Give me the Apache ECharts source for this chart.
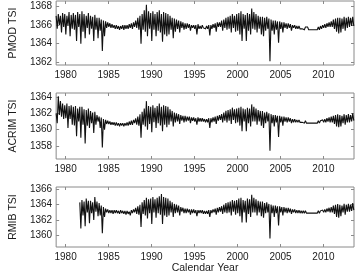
<!DOCTYPE html>
<html><head><meta charset="utf-8">
<script src="https://cdn.jsdelivr.net/npm/echarts@6/dist/echarts.min.js"></script>
<style>html,body{margin:0;padding:0;background:#fff}#c{width:357px;height:275px}</style>
</head><body><div id="c"></div>
<script>
// Time sampling: bins of 0.25 yr; each bin has an upper (hi) and lower (lo) reading of the daily-data band
const binStep = 0.25;
const pmodStart = 1978.9, acrimStart = 1978.9, rmibStart = 1981.65;
const xTicks = [1980, 1985, 1990, 1995, 2000, 2005, 2010];
const pmodTicks = [1362, 1364, 1366, 1368];
const acrimTicks = [1358, 1360, 1362, 1364];
const rmibTicks = [1360, 1362, 1364, 1366];
const panelNames = ['PMOD TSI', 'ACRIM TSI', 'RMIB TSI'];
const xTitle = 'Calendar Year';

const pmodHi = [
1367.0,1367.2,1367.0,1367.3, 1367.2,1367.0,1367.4,1367.1, 1367.3,1367.1,1367.4,1367.2, 1367.5,1367.2,1367.0,1367.3,
1367.0,1366.9,1367.1,1366.8, 1366.8,1366.6,1366.5,1366.4, 1366.3,1366.2,1366.1,1366.0, 1366.0,1365.9,1365.9,1366.0,
1366.0,1366.0,1366.1,1366.2, 1366.3,1366.5,1366.8,1367.0, 1367.2,1367.6,1368.2,1367.5, 1367.3,1367.5,1367.2,1367.4,
1367.6,1367.2,1367.4,1367.3, 1367.2,1367.0,1366.8,1366.7, 1366.6,1366.5,1366.4,1366.3, 1366.2,1366.2,1366.1,1366.0,
1366.0,1366.0,1366.1,1365.9, 1366.0,1365.9,1365.9,1366.0, 1366.0,1366.1,1366.2,1366.3, 1366.3,1366.5,1366.6,1366.8,
1366.9,1367.0,1367.2,1367.0, 1367.2,1367.3,1367.5,1367.2, 1367.1,1367.3,1367.2,1367.8, 1367.4,1367.2,1367.0,1366.9,
1366.9,1366.8,1366.9,1366.7, 1366.6,1366.5,1366.5,1366.4, 1366.4,1366.3,1366.3,1366.2, 1366.2,1366.1,1366.0,1366.0,
1365.9,1365.9,1365.8,1365.8, 1365.8,1365.8,1365.7,1365.7, 1365.7,1365.7,1365.8,1365.9, 1366.0,1366.1,1366.2,1366.3,
1366.4,1366.6,1366.7,1366.8, 1366.8,1366.7,1366.9,1366.8, 1366.9,1366.8,1366.9];
const pmodLo = [
1365.6,1366.0,1365.2,1365.8, 1365.0,1365.9,1364.8,1365.6, 1365.5,1364.3,1365.8,1364.0, 1365.3,1364.6,1365.7,1365.0,
1365.6,1364.3,1365.5,1364.6, 1365.4,1363.2,1364.8,1365.7, 1365.8,1365.7,1365.7,1365.6, 1365.6,1365.5,1365.6,1365.5,
1365.6,1365.6,1365.7,1365.6, 1365.8,1365.7,1365.5,1364.0, 1365.5,1365.3,1364.8,1365.6, 1364.3,1365.5,1364.8,1365.4,
1365.2,1364.2,1365.0,1364.8, 1365.0,1365.5,1364.6,1365.3, 1365.6,1365.2,1365.7,1365.5, 1365.6,1365.7,1365.4,1365.7,
1365.6,1365.0,1365.6,1365.6, 1365.7,1365.6,1365.6,1364.9, 1365.6,1365.7,1365.3,1365.8, 1365.8,1365.4,1365.7,1365.5,
1365.6,1365.2,1365.7,1365.3, 1365.4,1365.0,1364.3,1365.6, 1364.3,1365.4,1365.0,1365.6, 1365.5,1365.2,1365.6,1365.0,
1364.8,1365.4,1365.6,1362.1, 1365.4,1365.0,1365.5,1364.1, 1365.6,1365.2,1365.7,1365.6, 1365.7,1365.4,1365.7,1365.6,
1365.6,1365.6,1365.6,1365.5, 1365.6,1365.5,1365.5,1365.5, 1365.5,1365.5,1365.5,1365.6, 1365.7,1365.7,1365.8,1365.8,
1365.8,1365.6,1365.3,1365.1, 1365.2,1365.6,1365.4,1365.7, 1365.8,1365.9,1365.9];

const acrimHi = [
1362.0,1364.1,1363.5,1363.2, 1363.0,1363.2,1362.9,1363.0, 1362.8,1362.9,1362.6,1362.8, 1362.8,1362.5,1362.4,1362.6,
1362.3,1362.1,1362.2,1361.8, 1361.6,1361.5,1361.3,1361.2, 1361.1,1361.0,1360.9,1360.9, 1360.9,1360.8,1360.8,1360.8,
1360.8,1360.9,1361.0,1361.1, 1361.2,1361.4,1361.6,1361.9, 1362.2,1362.6,1363.5,1362.9, 1362.8,1363.0,1362.7,1362.9,
1363.2,1362.8,1363.0,1362.9, 1362.8,1362.5,1362.3,1362.1, 1362.0,1361.9,1361.8,1361.7, 1361.7,1361.6,1361.6,1361.5,
1361.5,1361.4,1361.5,1361.4, 1361.4,1361.3,1361.3,1361.4, 1361.4,1361.5,1361.6,1361.7, 1361.8,1361.9,1362.1,1362.3,
1362.4,1362.5,1362.7,1362.5, 1362.6,1362.7,1362.8,1362.6, 1362.5,1362.7,1362.6,1363.1, 1362.8,1362.6,1362.4,1362.3,
1362.3,1362.1,1362.2,1362.0, 1361.9,1361.8,1361.8,1361.7, 1361.7,1361.6,1361.6,1361.5, 1361.5,1361.4,1361.3,1361.3,
1361.2,1361.2,1361.1,1361.1, 1361.1,1361.0,1361.0,1361.0, 1361.0,1361.0,1361.1,1361.1, 1361.2,1361.3,1361.4,1361.5,
1361.6,1361.7,1361.8,1361.9, 1361.8,1361.7,1361.9,1361.8, 1361.9,1361.8,1362.0];
const acrimLo = [
1360.8,1361.8,1361.6,1361.3, 1361.4,1360.2,1361.3,1360.6, 1360.5,1359.2,1361.0,1359.0, 1360.6,1358.3,1360.5,1360.2,
1360.8,1359.6,1360.6,1361.0, 1360.2,1357.8,1360.0,1360.7, 1360.7,1360.6,1360.6,1360.5, 1360.5,1360.4,1360.5,1360.4,
1360.5,1360.5,1360.6,1360.6, 1360.8,1360.6,1360.5,1359.0, 1360.6,1360.4,1360.0,1360.7, 1359.7,1360.9,1360.2,1360.8,
1360.5,1359.8,1360.6,1360.3, 1360.6,1361.0,1360.4,1360.9, 1361.0,1360.7,1361.1,1360.9, 1361.0,1361.1,1360.8,1361.1,
1361.0,1360.6,1361.0,1361.0, 1361.0,1360.9,1360.9,1360.2, 1360.9,1361.0,1360.7,1361.1, 1361.2,1360.9,1361.1,1360.9,
1361.1,1360.7,1361.2,1360.8, 1360.9,1360.5,1359.8,1361.0, 1359.8,1360.8,1360.4,1361.0, 1361.0,1360.6,1361.0,1360.5,
1360.2,1360.8,1361.0,1357.4, 1360.8,1360.4,1360.9,1359.1, 1360.9,1360.5,1361.0,1360.9, 1361.0,1360.8,1360.9,1360.9,
1360.9,1360.9,1360.9,1360.8, 1360.8,1360.8,1360.8,1360.8, 1360.8,1360.8,1360.8,1360.9, 1360.9,1360.9,1361.0,1360.9,
1360.9,1360.7,1360.4,1360.3, 1360.4,1360.8,1360.6,1360.9, 1360.9,1361.0,1361.1];

const rmibHi = [
1364.3,
1364.6,1364.4,1364.8,1364.5, 1364.5,1364.3,1365.0,1364.4, 1364.2,1363.9,1363.7,1363.5, 1363.4,1363.3,1363.3,1363.3,
1363.3,1363.2,1363.3,1363.2, 1363.2,1363.2,1363.1,1363.3, 1363.4,1363.6,1363.8,1364.0, 1364.3,1364.6,1364.9,1364.7,
1364.8,1365.0,1364.7,1364.9, 1365.1,1365.4,1365.0,1364.9, 1364.8,1364.5,1364.3,1364.1, 1364.0,1363.9,1363.7,1363.6,
1363.5,1363.5,1363.4,1363.4, 1363.4,1363.3,1363.3,1363.3, 1363.3,1363.2,1363.2,1363.3, 1363.3,1363.4,1363.5,1363.6,
1363.7,1363.8,1364.0,1364.2, 1364.3,1364.4,1364.6,1364.5, 1364.6,1364.8,1364.9,1364.6, 1364.5,1364.8,1364.7,1365.3,
1364.9,1364.7,1364.5,1364.4, 1364.4,1364.2,1364.3,1364.1, 1364.0,1363.9,1363.9,1363.8, 1363.8,1363.7,1363.7,1363.6,
1363.6,1363.5,1363.4,1363.4, 1363.3,1363.3,1363.2,1363.2, 1363.2,1363.1,1363.1,1363.1, 1363.1,1363.1,1363.2,1363.2,
1363.3,1363.4,1363.5,1363.6, 1363.7,1363.9,1364.0,1364.1, 1364.0,1363.9,1364.1,1364.0, 1364.1,1364.0,1364.2];
const rmibLo = [
1360.9,
1362.6,1361.2,1363.0,1361.6, 1362.9,1362.0,1363.1,1362.5, 1362.6,1360.3,1362.4,1363.0, 1362.9,1362.9,1362.8,1362.9,
1362.9,1362.8,1362.9,1362.8, 1362.7,1362.8,1362.6,1362.9, 1363.0,1362.8,1362.7,1361.1, 1362.8,1362.6,1362.2,1362.9,
1361.5,1363.0,1362.3,1362.9, 1362.7,1361.5,1362.6,1362.4, 1362.6,1363.0,1362.4,1362.9, 1363.0,1362.6,1363.1,1362.9,
1362.9,1363.0,1362.7,1362.9, 1362.9,1362.5,1362.9,1362.9, 1362.8,1362.8,1362.8,1362.4, 1362.9,1363.0,1362.7,1363.0,
1363.1,1362.8,1363.0,1362.9, 1363.0,1362.6,1363.1,1362.7, 1362.9,1362.5,1361.7,1363.0, 1361.7,1362.8,1362.4,1363.0,
1363.0,1362.6,1363.0,1362.5, 1362.3,1362.9,1363.0,1359.6, 1362.9,1362.4,1362.9,1361.3, 1363.0,1362.6,1363.0,1362.9,
1363.0,1362.8,1363.0,1362.9, 1362.9,1362.9,1362.9,1362.9, 1362.9,1362.9,1362.9,1362.9, 1362.9,1362.9,1362.9,1363.0,
1363.0,1363.0,1363.1,1363.0, 1363.0,1362.8,1362.4,1362.3, 1362.5,1363.0,1362.7,1363.1, 1363.1,1363.2,1363.3];

function band(start, hi, lo) {
  const out = [];
  for (let i = 0; i < hi.length; i++) {
    out.push([start + binStep * i, hi[i]]);
    if (i < lo.length) out.push([start + binStep * i + binStep / 2, lo[i]]);
  }
  return out;
}

const chart = echarts.init(document.getElementById('c'), null, {renderer: 'canvas'});
const FONT = 'Liberation Sans, Arial, sans-serif';
const TXT = '#1a1a1a';
const BOX = '#8a8a8a';
const X_MIN = 1978.9, X_MAX = 2013.55;
const grids = [
  {left: 39, right: 3, top: 1, height: 64},
  {left: 39, right: 3, top: 93, height: 66},
  {left: 39, right: 3, top: 187, height: 64}
];
const yRanges = [[1361.7, 1368.6], [1356.4, 1364.5], [1358.5, 1366.3]];
const yTicks = [pmodTicks, acrimTicks, rmibTicks];
const seriesData = [band(pmodStart, pmodHi, pmodLo), band(acrimStart, acrimHi, acrimLo), band(rmibStart, rmibHi, rmibLo)];

const xAxes = [], yAxes = [], series = [];
grids.forEach((g, k) => {
  g.show = true; g.borderColor = BOX; g.borderWidth = 1; g.backgroundColor = 'transparent'; g.containLabel = false;
  xAxes.push({
    type: 'value', gridIndex: k, position: 'bottom', min: X_MIN, max: X_MAX,
    axisLine: {show: false}, splitLine: {show: false},
    axisTick: {show: true, inside: true, length: 3, lineStyle: {color: BOX}, customValues: xTicks},
    axisLabel: {show: true, margin: 5, color: TXT, fontSize: 10, fontFamily: FONT, customValues: xTicks, formatter: v => String(v)},
    name: k === 2 ? xTitle : '', nameLocation: 'middle', nameGap: 16,
    nameTextStyle: {color: TXT, fontSize: 10.5, fontFamily: FONT}
  });
  xAxes.push({
    type: 'value', gridIndex: k, position: 'top', min: X_MIN, max: X_MAX,
    axisLine: {show: false}, splitLine: {show: false},
    axisTick: {show: true, inside: true, length: 3, lineStyle: {color: BOX}, customValues: xTicks},
    axisLabel: {show: false}
  });
  yAxes.push({
    type: 'value', gridIndex: k, position: 'left', min: yRanges[k][0], max: yRanges[k][1],
    axisLine: {show: false}, splitLine: {show: false},
    axisTick: {show: true, inside: true, length: 3, lineStyle: {color: BOX}, customValues: yTicks[k]},
    axisLabel: {show: true, margin: 4, color: TXT, fontSize: 10, fontFamily: FONT, customValues: yTicks[k], formatter: v => String(v)},
    name: panelNames[k], nameLocation: 'middle', nameGap: 24, nameRotate: 90,
    nameTextStyle: {color: TXT, fontSize: 10.5, fontFamily: FONT}
  });
  yAxes.push({
    type: 'value', gridIndex: k, position: 'right', min: yRanges[k][0], max: yRanges[k][1],
    axisLine: {show: false}, splitLine: {show: false},
    axisTick: {show: true, inside: true, length: 3, lineStyle: {color: BOX}, customValues: yTicks[k]},
    axisLabel: {show: false}
  });
  series.push({
    type: 'line', xAxisIndex: 2 * k, yAxisIndex: 2 * k, data: seriesData[k],
    showSymbol: false, symbol: 'none', animation: false, silent: true,
    lineStyle: {color: '#111', width: 1.1, join: 'miter', miterLimit: 2}
  });
});

chart.setOption({
  animation: false,
  grid: grids, xAxis: xAxes, yAxis: yAxes, series: series
});
</script></body></html>
